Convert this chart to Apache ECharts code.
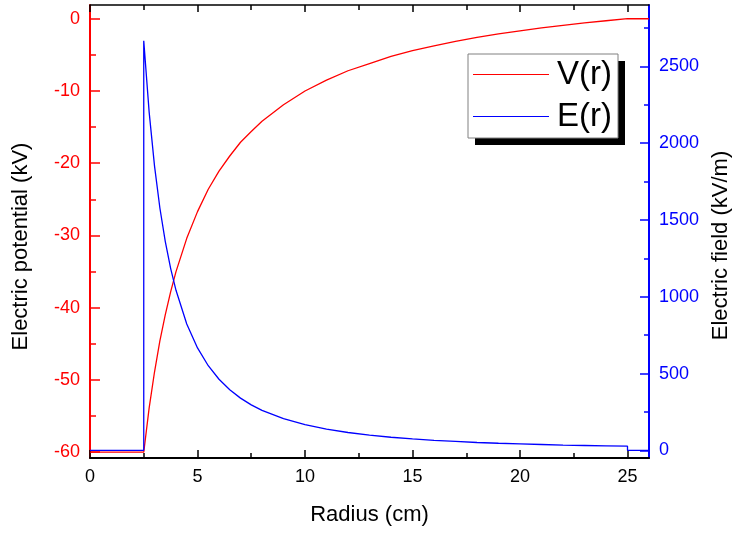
<!DOCTYPE html>
<html>
<head>
<meta charset="utf-8">
<script src="https://cdn.jsdelivr.net/npm/echarts@6/dist/echarts.min.js"></script>
<style>
  html, body { margin: 0; padding: 0; background: #fff; }
  #chart { width: 736px; height: 534px; }
</style>
</head>
<body>
<div id="chart"></div>
<script>
// Spherical shell between r = 2.5 cm and r = 25 cm: potential and field profiles.
const radius = [2.5, 2.75, 3, 3.25, 3.5, 3.75, 4, 4.5, 5, 5.5, 6, 6.5, 7, 7.5, 8, 9, 10,
                11, 12, 13, 14, 15, 16, 17, 18, 19, 20, 21, 22, 23, 24, 25];
const potential = [-60, -53.9, -48.9, -44.6, -41.0, -37.8, -35.0, -30.4, -26.7, -23.6, -21.1,
                   -19.0, -17.1, -15.6, -14.2, -11.9, -10.0, -8.5, -7.2, -6.2, -5.2, -4.4,
                   -3.75, -3.14, -2.59, -2.11, -1.67, -1.27, -0.91, -0.58, -0.28, 0];
const field = [2667, 2204, 1852, 1578, 1361, 1185, 1042, 823, 667, 551, 463, 394, 340, 296,
               260, 206, 167, 138, 116, 99, 85, 74, 65, 58, 51, 46, 42, 38, 34, 31.5, 29, 26.7];

// Inside the inner electrode and outside the outer one
const innerRadius = [0, 2.5];
const innerPotential = [-60, -60];
const innerField = [0, 0];
const outerRadius = [25, 26];
const outerPotential = [0, 0];
const outerField = [0, 0];

// Tick values
const xMajor = [0, 5, 10, 15, 20, 25];
const xMinor = [2.5, 7.5, 12.5, 17.5, 22.5];
const vMajor = [-60, -50, -40, -30, -20, -10, 0];
const vMinor = [-55, -45, -35, -25, -15, -5];
const eMajor = [0, 500, 1000, 1500, 2000, 2500];
const eMinor = [250, 750, 1250, 1750, 2250, 2750];

const pairs = (xs, ys) => xs.map((x, i) => [x, ys[i]]);

const vData = [].concat(
  pairs(innerRadius.slice(0, 1), innerPotential.slice(0, 1)),
  pairs(radius, potential),
  pairs(outerRadius.slice(1), outerPotential.slice(1))
);
const eData = [].concat(
  pairs(innerRadius, innerField),
  pairs(radius, field),
  pairs(outerRadius, outerField)
);

const FONT = '"Liberation Sans", Arial, sans-serif';
const X_MIN = 0, X_MAX = 26;
const V_MIN = -60.8, V_MAX = 1.9;
const E_MIN = -50, E_MAX = 2900;

const plain = v => String(v);

function xAxis(position, ticks, len, withLine, withLabels) {
  return {
    type: 'value', position: position, min: X_MIN, max: X_MAX,
    name: withLabels ? 'Radius (cm)' : '',
    nameLocation: 'middle', nameGap: 46,
    nameTextStyle: { fontFamily: FONT, fontSize: 22, color: '#000' },
    splitLine: { show: false },
    axisLine: { show: withLine, onZero: false, lineStyle: { color: '#000', width: position === 'top' ? 1.5 : 2 } },
    axisTick: { show: true, inside: true, length: len, customValues: ticks, lineStyle: { color: '#000', width: 1.5 } },
    axisLabel: withLabels
      ? { show: true, customValues: xMajor, margin: 10, fontFamily: FONT, fontSize: 18, color: '#000', formatter: plain }
      : { show: false }
  };
}

function yAxis(position, color, min, max, ticks, len, withLine, labels, name, pad) {
  return {
    type: 'value', position: position, min: min, max: max,
    name: name || '', nameLocation: 'middle', nameGap: position === 'left' ? 58 : 61,
    nameTextStyle: { fontFamily: FONT, fontSize: 22, color: '#000', padding: pad || 0 },
    splitLine: { show: false },
    axisLine: { show: withLine, onZero: false, lineStyle: { color: color, width: 2 } },
    axisTick: { show: true, inside: true, length: len, customValues: ticks, lineStyle: { color: color, width: 1.5 } },
    axisLabel: labels
      ? { show: true, customValues: labels, margin: 10, fontFamily: FONT, fontSize: 18, color: color, formatter: plain }
      : { show: false }
  };
}

const chart = echarts.init(document.getElementById('chart'), null, { renderer: 'canvas' });

chart.setOption({
  animation: false,
  backgroundColor: '#fff',
  grid: { left: 90, right: 87, top: 5, bottom: 76, containLabel: false, outerBoundsMode: 'none' },
  xAxis: [
    xAxis('bottom', xMajor, 8, true, true),
    xAxis('bottom', xMinor, 5, false, false),
    xAxis('top', xMajor, 7, true, false),
    xAxis('top', xMinor, 5, false, false)
  ],
  yAxis: [
    yAxis('left', '#ff0000', V_MIN, V_MAX, vMajor, 10, true, vMajor, 'Electric potential (kV)', [0, 30, 0, 0]),
    yAxis('left', '#ff0000', V_MIN, V_MAX, vMinor, 6, false, null),
    yAxis('right', '#0000ff', E_MIN, E_MAX, eMajor, 9, true, eMajor, 'Electric field (kV/m)', [0, 28, 0, 0]),
    yAxis('right', '#0000ff', E_MIN, E_MAX, eMinor, 5, false, null)
  ],
  legend: {
    orient: 'vertical', left: 468, top: 54,
    padding: [4, 6, 4, 5], itemGap: 9, itemWidth: 76, itemHeight: 1.2,
    textStyle: { fontFamily: FONT, fontSize: 33, color: '#000', padding: [0, 0, 0, 3] },
    data: [{ name: 'V(r)', icon: 'rect' }, { name: 'E(r)', icon: 'rect' }]
  },
  graphic: [
    { type: 'rect', z: 1, shape: { x: 475, y: 61, width: 150, height: 84 }, style: { fill: '#000' } },
    { type: 'rect', z: 2, shape: { x: 468, y: 54, width: 150, height: 84 }, style: { fill: '#fff', stroke: '#808080', lineWidth: 1 } }
  ],
  series: [
    {
      name: 'V(r)', type: 'line', xAxisIndex: 0, yAxisIndex: 0,
      data: vData, symbol: 'none', showSymbol: false, smooth: false,
      lineStyle: { color: '#ff0000', width: 1.3 }, itemStyle: { color: '#ff0000' }, z: 3
    },
    {
      name: 'E(r)', type: 'line', xAxisIndex: 0, yAxisIndex: 2,
      data: eData, symbol: 'none', showSymbol: false, smooth: false,
      lineStyle: { color: '#0000ff', width: 1.3 }, itemStyle: { color: '#0000ff' }, z: 3
    }
  ]
});
</script>
</body>
</html>
